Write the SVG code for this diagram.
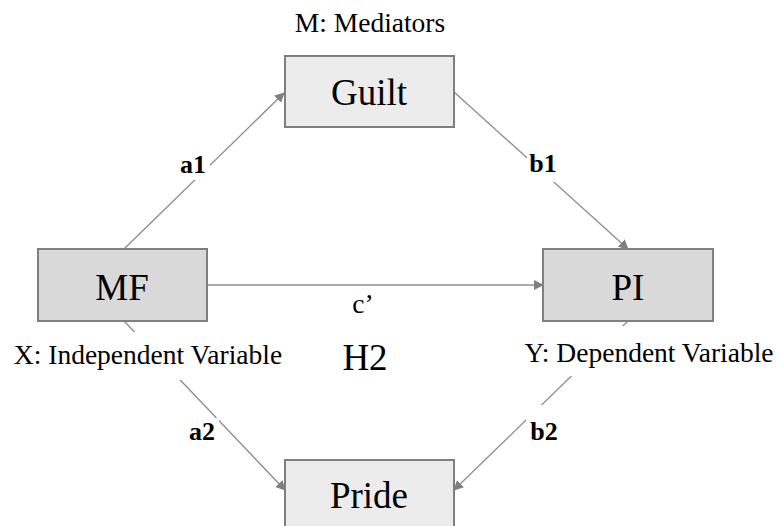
<svg xmlns="http://www.w3.org/2000/svg" width="779" height="526" viewBox="0 0 779 526" font-family="'Liberation Serif', 'Times New Roman', serif">
<style>
text{font-family:'Liberation Serif','Times New Roman',serif;fill:#000;text-anchor:middle}
.box{stroke:#7f7f7f;stroke-width:2}
.light{fill:#ececec}
.dark{fill:#d9d9d9}
.node{font-size:37px}
.conn line{stroke:#8c8c8c;stroke-width:1.3;fill:none}
.arr{marker-end:url(#ah)}
.lbl{font-size:26px;font-weight:bold}
.cap{font-size:27.5px}
.bg{fill:#fff}
</style>
<defs>
<marker id="ah" viewBox="0 0 10 10" refX="9" refY="5" markerWidth="10" markerHeight="10" markerUnits="userSpaceOnUse" orient="auto">
<path d="M0,0 L10,5 L0,10 Z" fill="#7f7f7f"/>
</marker>
</defs>
<rect width="779" height="526" fill="#fff"/>
<g id="connectors" class="conn">
<line class="arr" x1="124" y1="249" x2="284" y2="93"/>
<line class="arr" x1="454" y1="92" x2="628" y2="249"/>
<line class="arr" x1="207" y1="285" x2="543" y2="285"/>
<line class="arr" x1="124" y1="321" x2="285" y2="490"/>
<line class="arr" x1="628" y1="321" x2="454" y2="490"/>
</g>
<g id="labels">
<rect class="bg" x="178" y="150" width="32" height="30"/>
<text class="lbl" x="193" y="173">a1</text>
<rect class="bg" x="527" y="148" width="34" height="34"/>
<text class="lbl" x="543" y="172">b1</text>
<rect class="bg" x="183" y="418" width="36" height="32"/>
<text class="lbl" x="202" y="440">a2</text>
<rect class="bg" x="526" y="405" width="36" height="35"/>
<text class="lbl" x="544" y="440">b2</text>
<text class="cap" x="363" y="313">c’</text>
<text x="365" y="370" style="font-size:37px">H2</text>
<text class="cap" x="370" y="32">M: Mediators</text>
<rect class="bg" x="10" y="332" width="276" height="48"/>
<text class="cap" x="148" y="364">X: Independent Variable</text>
<rect class="bg" x="520" y="326" width="256" height="50"/>
<text class="cap" x="649" y="362">Y: Dependent Variable</text>
</g>
<g id="guilt">
<rect class="box light" x="285" y="56" width="169" height="71"/>
<text class="node" x="369" y="105">Guilt</text>
</g>
<g id="mf">
<rect class="box dark" x="38" y="249" width="169" height="72"/>
<text class="node" x="122" y="300">MF</text>
</g>
<g id="pi">
<rect class="box dark" x="543" y="249" width="170" height="72"/>
<text class="node" x="628" y="300">PI</text>
</g>
<g id="pride">
<rect class="box light" x="285" y="460" width="169" height="72"/>
<text class="node" x="369" y="508">Pride</text>
</g>
</svg>
